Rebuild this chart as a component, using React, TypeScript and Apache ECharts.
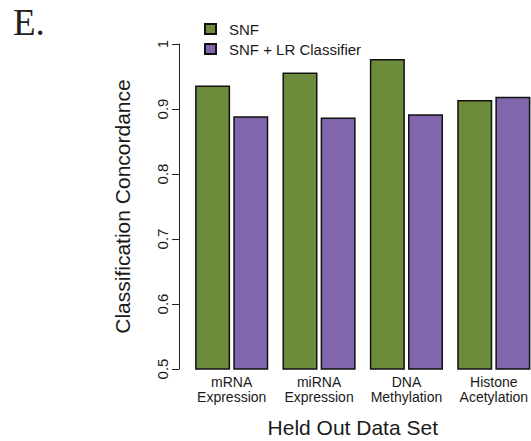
import React, { useEffect, useRef } from "react";
import * as echarts from "echarts";

const categories = ["mRNA\nExpression", "miRNA\nExpression", "DNA\nMethylation", "Histone\nAcetylation"];
const snf = [0.936, 0.956, 0.977, 0.914];
const snfLR = [0.889, 0.887, 0.892, 0.919];
const yTicks = [0.5, 0.6, 0.7, 0.8, 0.9, 1];

const FONT = "Liberation Sans, Arial, Helvetica, sans-serif";
const TXT = "#1a1a1a";

export default function App() {
  const ref = useRef<HTMLDivElement>(null);
  useEffect(() => {
    const chart = echarts.init(ref.current!, null, { renderer: "svg" });
    chart.setOption({
      animation: false,
      textStyle: { fontFamily: FONT, color: TXT },
      graphic: [
        {
          type: "text",
          left: 13,
          top: 4,
          style: { text: "E.", font: "37px 'Liberation Serif', 'Times New Roman', serif", fill: "#222" },
        },
      ],
      legend: {
        orient: "vertical",
        left: 199,
        top: 16,
        itemWidth: 11,
        itemHeight: 10,
        itemGap: 4,
        icon: "rect",
        textStyle: { fontFamily: FONT, fontSize: 15, lineHeight: 16, color: TXT, padding: [0, 0, 0, 8] },
        data: ["SNF", "SNF + LR Classifier"],
      },
      grid: { left: 188, top: 44, width: 349.5, height: 325, containLabel: false, outerBoundsMode: "none" },
      xAxis: {
        type: "category",
        data: categories,
        axisLine: { show: false },
        axisTick: { show: false },
        axisLabel: { interval: 0, hideOverlap: false, fontFamily: FONT, fontSize: 14, color: TXT, lineHeight: 15.5, margin: 5 },
        name: "Held Out Data Set",
        nameLocation: "middle",
        nameGap: 48,
        nameTextStyle: { fontFamily: FONT, fontSize: 21, color: TXT, padding: [0, 20, 0, 0] },
      },
      yAxis: {
        type: "value",
        min: 0.5,
        max: 1,
        interval: 0.1,
        offset: 9,
        axisLine: { show: true, lineStyle: { color: "#222", width: 1 } },
        axisTick: { show: true, length: 7, lineStyle: { color: "#222" } },
        splitLine: { show: false },
        axisLabel: {
          rotate: 90,
          fontFamily: FONT,
          fontSize: 15,
          color: TXT,
          margin: 9,
          formatter: (v: number) => {
            const t = yTicks.find((x) => Math.abs(x - v) < 1e-9);
            return t === undefined ? "" : String(t);
          },
        },
        name: "Classification Concordance",
        nameLocation: "middle",
        nameGap: 46,
        nameTextStyle: { fontFamily: FONT, fontSize: 21, color: TXT },
      },
      series: [
        {
          name: "SNF",
          type: "bar",
          data: snf,
          barWidth: 35,
          barGap: "9%",
          itemStyle: { color: "#6c8b3b", borderColor: "#111", borderWidth: 1.5 },
        },
        {
          name: "SNF + LR Classifier",
          type: "bar",
          data: snfLR,
          barWidth: 35,
          itemStyle: { color: "#8166ae", borderColor: "#111", borderWidth: 1.5 },
        },
      ],
    });
    return () => chart.dispose();
  }, []);
  return (
    <div style={{ position: "fixed", left: 0, top: 0, width: 531, height: 441, overflow: "hidden", background: "#fff" }}>
      <div ref={ref} style={{ width: 545, height: 441 }} />
    </div>
  );
}
